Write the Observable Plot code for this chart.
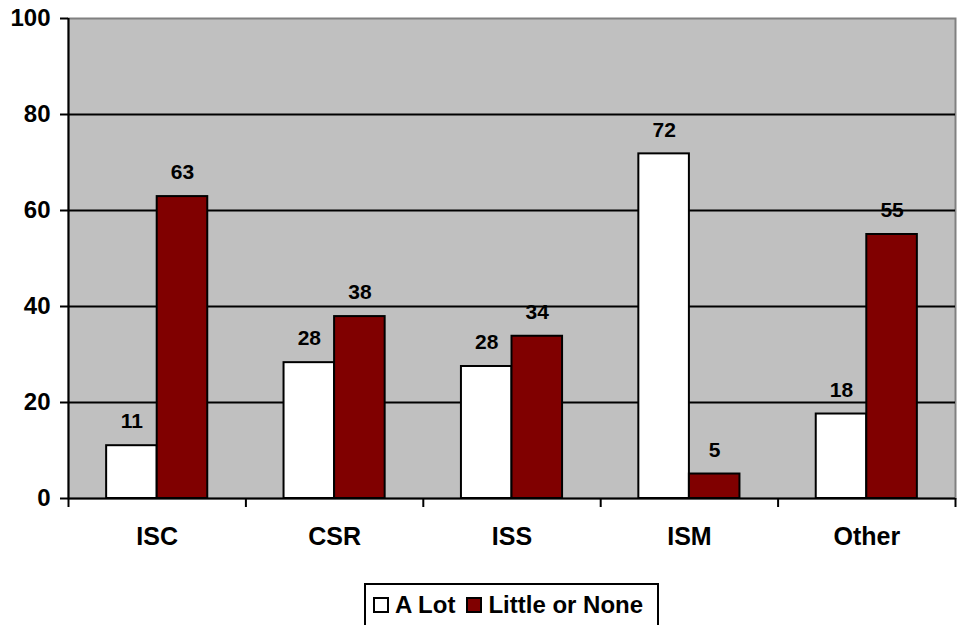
<!DOCTYPE html>
<html>
<head>
<meta charset="utf-8">
<script src="https://cdn.jsdelivr.net/npm/d3@7"></script>
<script src="https://cdn.jsdelivr.net/npm/@observablehq/plot@0.6"></script>
<style>
  html, body { margin: 0; padding: 0; background: #fff; overflow: hidden; }
  #wrap { position: relative; width: 957px; height: 625px; font-family: "Liberation Sans", Arial, sans-serif; font-weight: bold; }
  #legend { position: absolute; left: 364px; top: 583px; width: 291px; height: 40px; border: 2px solid #000; background: #fff;
    display: flex; align-items: center; font-size: 24px; box-sizing: content-box; }
  .sw { display: inline-block; width: 12px; height: 12px; border: 2px solid #000; margin-right: 6px; }
  .item { display: flex; align-items: center; margin-left: 7px; }
  .item + .item { margin-left: 11px; }
</style>
</head>
<body>
<div id="wrap"></div>
<script>
const categories = ["ISC", "CSR", "ISS", "ISM", "Other"];
const seriesNames = ["A Lot", "Little or None"];
const aLotValues = [11, 28.3, 27.5, 71.8, 17.6];
const littleValues = [62.9, 37.9, 33.8, 5.1, 55];
const aLotLabels = [11, 28, 28, 72, 18];
const littleLabels = [63, 38, 34, 5, 55];
const yTicks = [0, 20, 40, 60, 80, 100];
const gridTicks = [20, 40, 60, 80];
const colors = ["#ffffff", "#800000"];

const barW = 0.285;
const rows = [];
categories.forEach((c, i) => {
  rows.push({cat: c, i, series: seriesNames[0], value: aLotValues[i], label: aLotLabels[i], x1: i + 0.5 - barW, x2: i + 0.5});
  rows.push({cat: c, i, series: seriesNames[1], value: littleValues[i], label: littleLabels[i], x1: i + 0.5, x2: i + 0.5 + barW});
});
const boundaries = d3.range(categories.length + 1);
const centers = categories.map((c, i) => i + 0.5);

const chart = Plot.plot({
  width: 957,
  height: 580,
  marginLeft: 68,
  marginRight: 2,
  marginTop: 18,
  marginBottom: 82,
  style: {fontFamily: '"Liberation Sans", Arial, sans-serif', fontWeight: "bold", background: "transparent", color: "#000"},
  x: {type: "linear", domain: [0, categories.length]},
  y: {domain: [0, 100]},
  color: {domain: seriesNames, range: colors},
  marks: [
    Plot.frame({fill: "#c0c0c0", stroke: "#808080", strokeWidth: 2}),
    Plot.ruleY(gridTicks, {stroke: "#000", strokeWidth: 2}),
    Plot.rectY(rows, {x1: "x1", x2: "x2", y1: 0, y2: "value", fill: "series", stroke: "#000", strokeWidth: 2}),
    Plot.text(rows, {x: d => (d.x1 + d.x2) / 2, y: "value", text: "label", dy: -24, lineAnchor: "middle", fontSize: 21, fontWeight: "bold", fill: "#000"}),
    Plot.ruleY([0], {stroke: "#000", strokeWidth: 2}),
    Plot.ruleX([0], {stroke: "#000", strokeWidth: 2}),
    Plot.axisY(yTicks, {tickSize: 8, tickPadding: 10, fontSize: 24, fontWeight: "bold", stroke: "#000", strokeWidth: 2, label: null, tickFormat: d => d}),
    Plot.axisX(boundaries, {tickSize: 9, tickFormat: () => "", stroke: "#000", strokeWidth: 2, label: null}),
    Plot.axisX(centers, {tickSize: 0, tickPadding: 29, fontSize: 25, fontWeight: "bold", tickFormat: (d) => categories[Math.round(d - 0.5)], label: null})
  ]
});
const wrap = document.getElementById("wrap");
wrap.appendChild(chart);

const legend = document.createElement("div");
legend.id = "legend";
seriesNames.forEach((s, k) => {
  const item = document.createElement("span");
  item.className = "item";
  const sw = document.createElement("span");
  sw.className = "sw";
  sw.style.background = colors[k];
  item.appendChild(sw);
  item.appendChild(document.createTextNode(s));
  legend.appendChild(item);
});
wrap.appendChild(legend);
</script>
</body>
</html>
